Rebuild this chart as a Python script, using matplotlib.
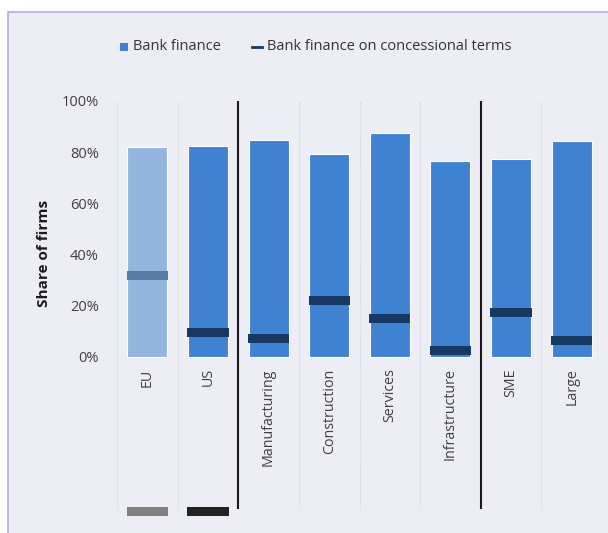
import matplotlib
matplotlib.use("Agg")
import matplotlib.pyplot as plt
from matplotlib.patches import Rectangle
from matplotlib.lines import Line2D

categories = ["EU", "US", "Manufacturing", "Construction", "Services",
              "Infrastructure", "SME", "Large"]
bank_finance = [82.1, 82.5, 84.7, 79.3, 87.3, 76.6, 77.2, 84.5]
concessional = [31.8, 9.5, 7.1, 22.0, 15.0, 2.4, 17.3, 6.3]
y_ticks = [0, 20, 40, 60, 80, 100]
y_tick_labels = ["0%", "20%", "40%", "60%", "80%", "100%"]
group_breaks = [1.5, 5.5]

W, H = 608, 533
DPI = 100
BG = "#ecedf5"
BORDER = "#aeaedc"
BLUE = "#3f82d1"
BLUE_LIGHT = "#94b5e0"
NAVY = "#173861"
NAVY_LIGHT = "#5a7aa6"
TXT = "#404040"
FONT = ["Open Sans", "DejaVu Sans"]

plt.rcParams["font.family"] = FONT

fig = plt.figure(figsize=(W / DPI, H / DPI), dpi=DPI)
fig.patch.set_facecolor("white")

# background panel with a thin border
panel = Rectangle((8 / W, -0.05), 1.1, 1 - 12 / H + 0.05, transform=fig.transFigure,
                  facecolor=BG, edgecolor=BORDER, linewidth=1.2, zorder=-5)
fig.patches.append(panel)

left, right, top, bottom = 117, 602, 101, 509
ax = fig.add_axes([left / W, 1 - bottom / H, (right - left) / W, (bottom - top) / H])
ax.set_facecolor("none")
ax.set_zorder(2)

y0_px = 356.5
px_per_unit = (y0_px - top) / 100.0
ymin = -(bottom - y0_px) / px_per_unit
ax.set_ylim(ymin, 100)
ax.set_xlim(-0.5, len(categories) - 0.5)

x = list(range(len(categories)))
bar_colors = [BLUE_LIGHT] + [BLUE] * (len(categories) - 1)
mark_colors = [NAVY_LIGHT] + [NAVY] * (len(categories) - 1)

ax.bar(x, bank_finance, width=0.66, color=bar_colors, edgecolor="white",
       linewidth=0.8, zorder=2)

mark_h = 3.5
ax.bar(x, [mark_h] * len(x), bottom=[v - mark_h / 2 for v in concessional],
       width=0.68, color=mark_colors, linewidth=0, zorder=3)

# dotted category boundaries and solid group separators
for b in [i - 0.5 for i in range(len(categories) + 1)]:
    if b in group_breaks:
        ax.axvline(b, color="#1a1a1a", linewidth=1.5, zorder=4)
    else:
        ax.axvline(b, color="#d0d0dc", linewidth=0.8, linestyle=(0, (1, 1.5)), zorder=1)

for s in ax.spines.values():
    s.set_visible(False)
ax.set_xticks([])
ax.set_yticks(y_ticks)
ax.set_yticklabels(y_tick_labels, fontsize=10.5, color=TXT)
ax.tick_params(axis="y", length=0, pad=13)

for xi, lab in zip(x, categories):
    ax.text(xi, -4.6, lab, rotation=90, ha="center", va="top", fontsize=10.3,
            color=TXT)

# small swatches under the first two columns
for xi, c in zip([0, 1], ["#808080", "#222222"]):
    ax.add_patch(Rectangle((xi - 0.34, ymin - 2.8), 0.68, 3.5, facecolor=c,
                           edgecolor="none", clip_on=False, zorder=3))

fig.text(44 / W, 1 - 253 / H, "Share of firms", rotation=90, ha="center",
         va="center", fontsize=11, fontweight="bold", color="#1a1a1a")

# legend
fig.patches.append(Rectangle((120 / W, 1 - 51 / H), 8 / W, 8 / H,
                             transform=fig.transFigure, facecolor=BLUE,
                             edgecolor="none"))
fig.text(133 / W, 1 - 46 / H, "Bank finance", ha="left", va="center",
         fontsize=10.5, color="#333333")
fig.lines.append(Line2D([252 / W, 262 / W], [1 - 47 / H, 1 - 47 / H],
                        transform=fig.transFigure, color=NAVY, linewidth=2))
fig.text(267 / W, 1 - 46 / H, "Bank finance on concessional terms", ha="left",
         va="center", fontsize=10.5, color="#333333")

fig.savefig("out.png", dpi=DPI, facecolor="white")
